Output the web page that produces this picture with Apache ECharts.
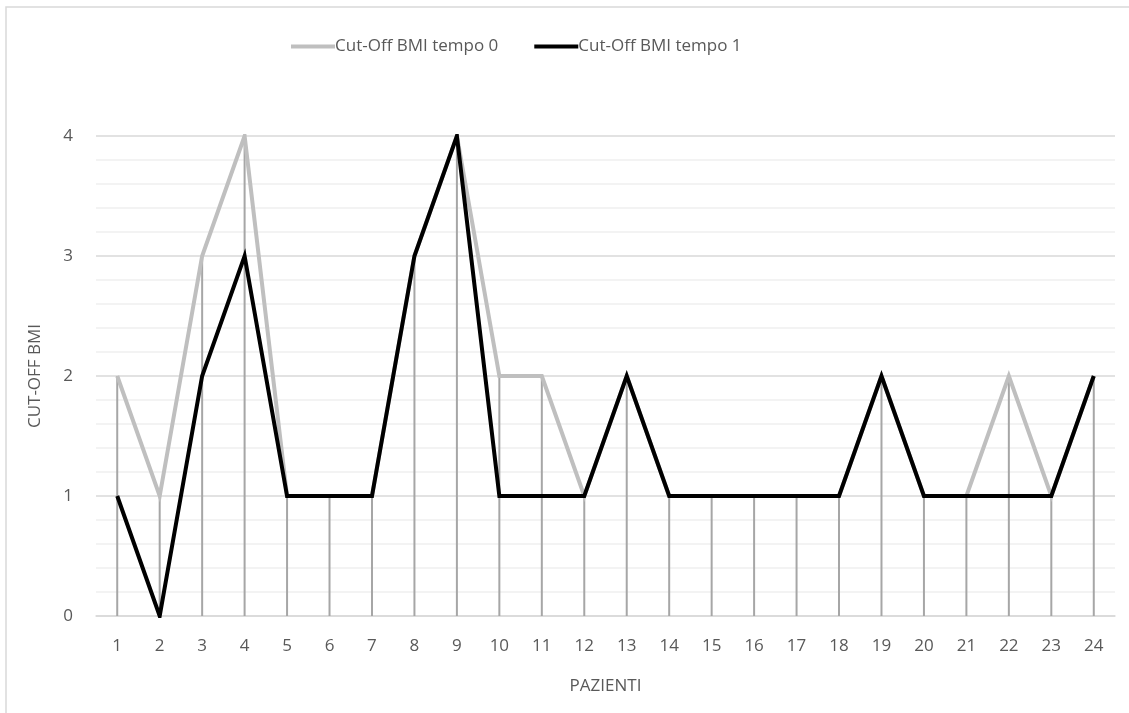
<!DOCTYPE html>
<html>
<head>
<meta charset="utf-8">
<style>
  html, body { margin: 0; padding: 0; background: #fff; }
  #chart { width: 1129px; height: 713px; }
</style>
<script src="https://cdn.jsdelivr.net/npm/echarts@6/dist/echarts.min.js"></script>
</head>
<body>
<div id="chart"></div>
<script>
// Patient numbers on the category axis
const patients = ['1','2','3','4','5','6','7','8','9','10','11','12','13','14','15','16','17','18','19','20','21','22','23','24'];
// BMI cut-off class at time 0 and time 1
const tempo0 = [2,1,3,4,1,1,1,3,4,2,2,1,2,1,1,1,1,1,2,1,1,2,1,2];
const tempo1 = [1,0,2,3,1,1,1,3,4,1,1,1,2,1,1,1,1,1,2,1,1,1,1,2];
const seriesNames = ['Cut-Off BMI tempo 0', 'Cut-Off BMI tempo 1'];
const yTicks = [0, 1, 2, 3, 4];

// Drop lines reach from the highest point of each patient to the axis
const dropTop = tempo0.map((v, i) => Math.max(v, tempo1[i]));

const FONT = 'Open Sans';
const TEXT = '#595959';
const FS = 17;

const chart = echarts.init(document.getElementById('chart'));
chart.setOption({
  animation: false,
  backgroundColor: '#fff',
  textStyle: { fontFamily: FONT },
  graphic: [
    { type: 'polyline', shape: { points: [[6, 713], [6, 7], [1129, 7]] },
      style: { stroke: '#d9d9d9', lineWidth: 1.5, fill: null } }
  ],
  legend: {
    top: 33, left: 286,
    data: seriesNames,
    itemWidth: 44, itemHeight: 4, itemGap: 36,
    icon: 'rect',
    textStyle: { color: TEXT, fontSize: FS, fontFamily: FONT, padding: [0, 0, 0, -5] }
  },
  grid: { left: 96, right: 14, top: 136, bottom: 97 },
  xAxis: {
    type: 'category',
    data: patients,
    boundaryGap: true,
    name: 'PAZIENTI',
    nameLocation: 'middle',
    nameGap: 62,
    nameTextStyle: { color: TEXT, fontSize: FS },
    axisLine: { show: true, lineStyle: { color: '#d9d9d9', width: 1.5 } },
    axisTick: { show: false },
    axisLabel: { color: TEXT, fontSize: FS, margin: 22 },
    splitLine: { show: false }
  },
  yAxis: {
    type: 'value',
    min: yTicks[0], max: yTicks[yTicks.length - 1], interval: 1,
    name: 'CUT-OFF BMI',
    nameLocation: 'middle',
    nameGap: 52,
    nameTextStyle: { color: TEXT, fontSize: FS },
    axisLine: { show: false },
    axisTick: { show: false },
    axisLabel: { color: TEXT, fontSize: FS, margin: 23 },
    splitLine: { show: true, lineStyle: { color: '#d9d9d9', width: 1.5 } },
    minorTick: { show: false, splitNumber: 5 },
    minorSplitLine: { show: true, lineStyle: { color: '#efefef', width: 1.5 } }
  },
  series: [
    {
      name: 'drop',
      type: 'bar',
      data: dropTop,
      barWidth: 2,
      itemStyle: { color: '#a6a6a6' },
      silent: true,
      z: 1
    },
    {
      name: seriesNames[0],
      type: 'line',
      data: tempo0,
      symbol: 'none',
      lineStyle: { color: '#bfbfbf', width: 4, join: 'miter' },
      itemStyle: { color: '#bfbfbf' },
      z: 2
    },
    {
      name: seriesNames[1],
      type: 'line',
      data: tempo1,
      symbol: 'none',
      lineStyle: { color: '#000000', width: 4, join: 'miter' },
      itemStyle: { color: '#000000' },
      z: 3
    }
  ]
});
</script>
</body>
</html>
